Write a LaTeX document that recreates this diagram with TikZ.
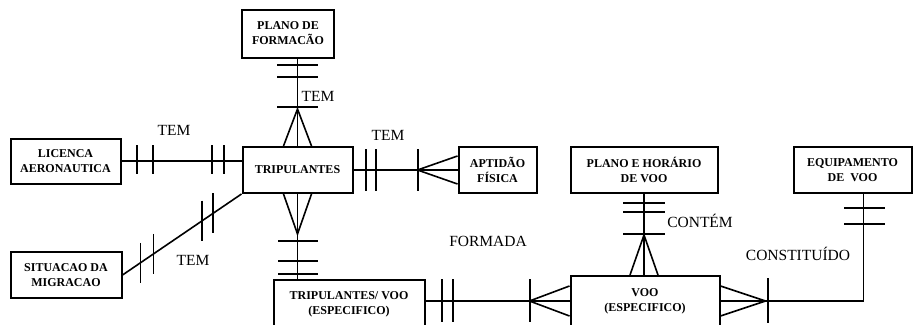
\documentclass[tikz,border=0pt]{standalone}
\usepackage{fontspec}
\setmainfont{Liberation Serif}
\usetikzlibrary{positioning,calc}

\begin{document}
\begin{tikzpicture}[
    x=1pt, y=-1pt,
    entity/.style={rectangle, draw, line width=2pt, align=center, inner sep=0pt, font=\fontsize{12}{15}\selectfont\bfseries},
    rel/.style={inner sep=0pt, text height=10pt, text depth=0pt, font=\fontsize{15.5}{18}\selectfont},
    link/.style={line width=1.6pt}
]
\useasboundingbox (0,0) rectangle (917,324);
\clip (0,0) rectangle (917,324);

% Entities
\node[entity, minimum width=110, minimum height=45] (lic) at (65.5,161) {LICENCA\\AERONAUTICA};
\node[entity, minimum width=92, minimum height=48] (plano) at (288,33.5) {PLANO DE\\FORMACÃO};
\node[entity, minimum width=110, minimum height=46] (trip) at (297.5,170) {TRIPULANTES};
\node[entity, minimum width=78, minimum height=46] (apt) at (497.5,170) {APTIDÃO\\FÍSICA};
\node[entity, minimum width=147, minimum height=46] (phor) at (644,170) {PLANO E HORÁRIO\\DE VOO};
\node[entity, minimum width=118, minimum height=46] (equip) at (852.5,170) {EQUIPAMENTO\\DE~~VOO};
\node[entity, minimum width=111, minimum height=46] (sit) at (66,275) {SITUACAO DA\\MIGRACAO};
\node[entity, minimum width=151, minimum height=48] (tv) at (349,304) {TRIPULANTES/ VOO\\(ESPECIFICO)};
\node[entity, minimum width=149, minimum height=50] (voo) at (645,301) {VOO\\(ESPECIFICO)};

% Relationship names
\node[rel] (tem1) at (174,130) {TEM};
\node[rel] (tem2) at (318,96) {TEM};
\node[rel] (tem3) at (388,135) {TEM};
\node[rel] (tem4) at (193,260) {TEM};
\node[rel] (formada) at (488,241) {FORMADA};
\node[rel] (contem) at (700,222) {CONTÉM};
\node[rel] (constituido) at (798,255) {CONSTITUÍDO};

% Licenca -- tripulantes
\draw[link] (lic.east) -- (lic.east -| trip.west);
\draw[link] (137,145) -- (137,174) (153,145) -- (153,174)
            (212,145) -- (212,174) (224,145) -- (224,174);

% Plano de formacao -- tripulantes
\draw[link] (trip.north |- plano.south) -- (trip.north);
\draw[link] (277,65) -- (318,65) (277,77) -- (318,77) (277,107) -- (318,107);
\draw[link] ([xshift=-14pt]trip.north) -- ++(14,-37) -- ([xshift=14pt]trip.north);

% Tripulantes -- aptidao
\draw[link] (trip.east) -- (apt.west);
\draw[link] (366,149) -- (366,191) (376,149) -- (376,191) (418,149) -- (418,191);
\draw[link] ([yshift=14pt]apt.west) -- ++(-40,14) -- ([yshift=-14pt]apt.west);

% Tripulantes -- tripulantes/voo
\draw[link] (trip.south) -- (trip.south |- tv.north);
\draw[link] ([xshift=-14pt]trip.south) -- ++(14,40) -- ([xshift=14pt]trip.south);
\draw[link] (278,241) -- (318,241) (278,261) -- (318,261) (278,274) -- (318,274);

% Situacao -- tripulantes
\draw[link] (sit.east) -- (trip.south west);
\draw[link] ($(sit.east)!0.15!(trip.south west)$) ++(0,-20) -- ++(0,40);
\draw[link] ($(sit.east)!0.26!(trip.south west)$) ++(0,-20) -- ++(0,40);
\draw[link] ($(sit.east)!0.67!(trip.south west)$) ++(0,-20) -- ++(0,40);
\draw[link] ($(sit.east)!0.76!(trip.south west)$) ++(0,-20) -- ++(0,40);

% Tripulantes/voo -- voo
\draw[link] (voo.west -| tv.east) -- (voo.west);
\draw[link] (442,279) -- (442,322) (453,279) -- (453,322) (530,279) -- (530,322);
\draw[link] ([yshift=15pt]voo.west) -- ++(-40,15) -- ([yshift=-15pt]voo.west);

% Plano e horario -- voo
\coordinate (pv) at (phor.south |- voo.north);
\draw[link] (phor.south) -- (pv);
\draw[link] (623,203) -- (665,203) (623,212) -- (665,212) (623,234) -- (665,234);
\draw[link] ([xshift=-14pt]pv) -- ++(14,-40) -- ([xshift=14pt]pv);

% Equipamento -- voo
\coordinate (eq) at ([xshift=11pt]equip.south);
\draw[link] (eq) |- (voo.east);
\draw[link] (844,208) -- (885,208) (844,224) -- (885,224);
\draw[link] ([yshift=15pt]voo.east) -- ++(45,15) -- ([yshift=-15pt]voo.east);
\draw[link] (768,278) -- (768,323);

\end{tikzpicture}
\end{document}
